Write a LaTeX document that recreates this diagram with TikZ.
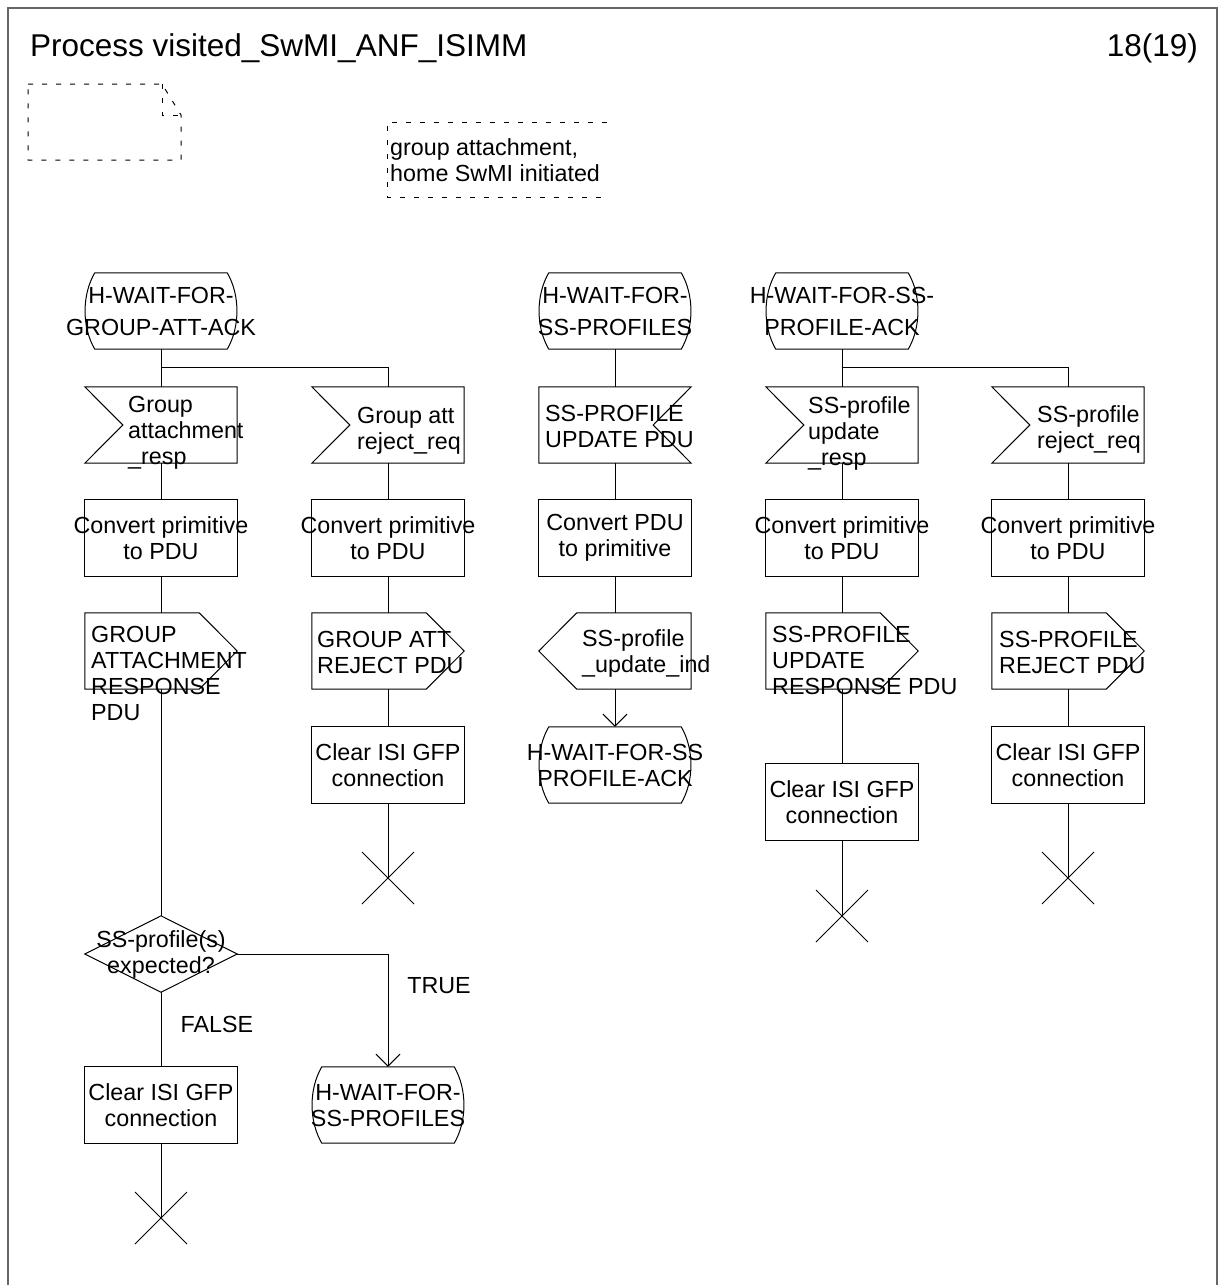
\documentclass[tikz,border=0pt]{standalone}
\usepackage{fontspec}
\setmainfont{Liberation Sans}
\usetikzlibrary{calc,arrows.meta}

\tikzset{
  ln/.style={line width=1pt, draw=black},
  blk/.style={minimum width=152pt, minimum height=76pt, inner sep=0pt},
  ctr/.style={inner sep=0pt, align=center, font=\fontsize{23.3}{26}\selectfont},
  toplead/.style={font=\fontsize{23.3}{32}\selectfont},
  txt/.style={inner sep=0pt, align=left, anchor=west, font=\fontsize{23.3}{26}\selectfont},
  lbl/.style={inner sep=0pt, font=\fontsize{23.3}{26}\selectfont},
  ttl/.style={inner sep=0pt, font=\fontsize{31.5}{38}\selectfont},
  frm/.style={line width=1.5pt, draw=black!60},
  dsh/.style={line width=1pt, dash pattern=on 5pt off 9pt},
  arr/.style={ln, -{Straight Barb[length=12pt,width=24pt]}},
}

\newcommand{\drawstate}[1]{\draw[ln] ($(#1.north west)+(10,0)$) -- ($(#1.north east)+(-10,0)$) .. controls ($(#1.north east)+(3,22)$) and ($(#1.south east)+(3,-22)$) .. ($(#1.south east)+(-10,0)$) -- ($(#1.south west)+(10,0)$) .. controls ($(#1.south west)+(-3,-22)$) and ($(#1.north west)+(-3,22)$) .. cycle;}
\newcommand{\drawin}[1]{\draw[ln] (#1.north west) -- (#1.north east) -- (#1.south east) -- (#1.south west) -- ($(#1.west)+(38,0)$) -- cycle;}
\newcommand{\drawinr}[1]{\draw[ln] (#1.north west) -- (#1.north east) -- ($(#1.east)+(-38,0)$) -- (#1.south east) -- (#1.south west) -- cycle;}
\newcommand{\drawout}[1]{\draw[ln] (#1.north west) -- ($(#1.north east)+(-38,0)$) -- (#1.east) -- ($(#1.south east)+(-38,0)$) -- (#1.south west) -- cycle;}
\newcommand{\drawoutl}[1]{\draw[ln] (#1.north east) -- (#1.south east) -- ($(#1.south west)+(38,0)$) -- (#1.west) -- ($(#1.north west)+(38,0)$) -- cycle;}
\newcommand{\drawbox}[1]{\draw[ln] (#1.north west) rectangle (#1.south east);}
\newcommand{\drawdec}[1]{\draw[ln] (#1.west) -- (#1.north) -- (#1.east) -- (#1.south) -- cycle;}
\newcommand{\drawstop}[1]{\draw[ln] ($(#1)+(-26,-26)$) -- ($(#1)+(26,26)$) ($(#1)+(-26,26)$) -- ($(#1)+(26,-26)$);}

\begin{document}
\begin{tikzpicture}[x=1pt,y=-1pt]
\useasboundingbox (0,0) rectangle (1221,1285);

% frame
\draw[frm] (8,1285) -- (8,8) -- (1217,8) -- (1217,1285);
\node[ttl, anchor=base west] (title) at (30,56) {Process visited\_SwMI\_ANF\_ISIMM};
\node[ttl, anchor=base east] (page) at (1198,56) {18(19)};

% top-left dashed symbol
\draw[dsh] (28,84) -- (162,84) -- (181,115) -- (181,160) -- (28,160) -- cycle;
\draw[dsh] (162,84) -- (162,115) -- (181,115);

% comment
\draw[dsh] (607,122) -- (387,122) -- (387,197) -- (607,197);
\node[txt] (cmt) at (390,160) {group attachment,\\home SwMI initiated};

% ---------- states (top row)
\node[blk] (s1) at (161,311) {};
\node[blk] (s3) at (615,311) {};
\node[blk] (s4) at (842,311) {};
\drawstate{s1}\drawstate{s3}\drawstate{s4}
\node[ctr, toplead] (ts1) at (s1.center) {H-WAIT-FOR-\\GROUP-ATT-ACK};
\node[ctr, toplead] (ts3) at (s3.center) {H-WAIT-FOR-\\SS-PROFILES};
\node[ctr, toplead] (ts4) at (s4.center) {H-WAIT-FOR-SS-\\PROFILE-ACK};

\coordinate (j1) at (161,367);
\coordinate (j4) at (842,367);

% ---------- inputs
\node[blk] (i1) at (161,425) {};
\node[blk] (i2) at (388,425) {};
\node[blk] (r3) at (615,425) {};
\node[blk] (i4) at (842,425) {};
\node[blk] (i5) at (1068,425) {};
\drawin{i1}\drawin{i2}\drawinr{r3}\drawin{i4}\drawin{i5}
\node[txt] (ti1) at (128,433) {Group\\attachment\\\_resp};
\node[txt] (ti2) at (357,431) {Group att\\reject\_req};
\node[txt] (tr3) at (545,426) {SS-PROFILE\\UPDATE PDU};
\node[txt] (ti4) at (808,433) {SS-profile\\update\\\_resp};
\node[txt] (ti5) at (1037,429) {SS-profile\\reject\_req};

% ---------- converts
\node[blk] (c1) at (161,538) {};
\node[blk] (c2) at (388,538) {};
\node[blk] (c3) at (615,538) {};
\node[blk] (c4) at (842,538) {};
\node[blk] (c5) at (1068,538) {};
\drawbox{c1}\drawbox{c2}\drawbox{c3}\drawbox{c4}\drawbox{c5}
\node[ctr] (tc1) at (c1.center) {Convert primitive\\to PDU};
\node[ctr] (tc2) at (c2.center) {Convert primitive\\to PDU};
\node[ctr] (tc3) at (c3.center) {Convert PDU\\to primitive};
\node[ctr] (tc4) at (c4.center) {Convert primitive\\to PDU};
\node[ctr] (tc5) at (c5.center) {Convert primitive\\to PDU};

% ---------- outputs
\node[blk] (o1) at (161,651) {};
\node[blk] (o2) at (388,651) {};
\node[blk] (o3) at (615,651) {};
\node[blk] (o4) at (842,651) {};
\node[blk] (o5) at (1068,651) {};
\drawout{o1}\drawout{o2}\drawoutl{o3}\drawout{o4}\drawout{o5}
\node[txt] (to1) at (91,673) {GROUP\\ATTACHMENT\\RESPONSE\\PDU};
\node[txt] (to2) at (317,652) {GROUP ATT\\REJECT PDU};
\node[txt] (to3) at (582,653) {SS-profile\\\_update\_ind};
\node[txt] (to4) at (772,660) {SS-PROFILE\\UPDATE\\RESPONSE PDU};
\node[txt] (to5) at (999,652) {SS-PROFILE\\REJECT PDU};

% ---------- clears and states
\node[blk] (k2) at (388,765) {};
\node[blk] (k4) at (842,802) {};
\node[blk] (k5) at (1068,765) {};
\drawbox{k2}\drawbox{k4}\drawbox{k5}
\node[ctr] (tk2) at (k2.center) {Clear ISI GFP\\connection};
\node[ctr] (tk4) at (k4.center) {Clear ISI GFP\\connection};
\node[ctr] (tk5) at (k5.center) {Clear ISI GFP\\connection};
\node[blk] (s3b) at (615,765) {};
\drawstate{s3b}
\node[ctr] (ts3b) at (s3b.center) {H-WAIT-FOR-SS\\PROFILE-ACK};

% ---------- decision
\node[blk] (d1) at (161,954) {};
\drawdec{d1}
\node[ctr] (td1) at (d1.center) {SS-profile(s)\\expected?};
\node[blk] (k1) at (161,1105) {};
\drawbox{k1}
\node[ctr] (tk1) at (k1.center) {Clear ISI GFP\\connection};
\node[blk] (s5) at (388,1105) {};
\drawstate{s5}
\node[ctr] (ts5) at (s5.center) {H-WAIT-FOR-\\SS-PROFILES};
\node[lbl] (ltrue) at (439,986) {TRUE};
\node[lbl] (lfalse) at (217,1024) {FALSE};

% stops
\coordinate (x1) at (161,1218);
\coordinate (x2) at (388,878);
\coordinate (x4) at (842,916);
\coordinate (x5) at (1068,878);
\drawstop{x1}\drawstop{x2}\drawstop{x4}\drawstop{x5}

% ---------- connectors
\draw[ln] (s1.south) -- (i1.north);
\draw[ln] (j1) -| (i2.north);
\draw[ln] (i1.south) -- (c1.north);
\draw[ln] (c1.south) -- (o1.north);
\draw[ln] (o1.south) -- (d1.north);
\draw[ln] (d1.south) -- (k1.north);
\draw[ln] (k1.south) -- (x1);
\draw[arr] (d1.east) -| (s5.north);

\draw[ln] (i2.south) -- (c2.north);
\draw[ln] (c2.south) -- (o2.north);
\draw[ln] (o2.south) -- (k2.north);
\draw[ln] (k2.south) -- (x2);

\draw[ln] (s3.south) -- (r3.north);
\draw[ln] (r3.south) -- (c3.north);
\draw[ln] (c3.south) -- (o3.north);
\draw[arr] (o3.south) -- (s3b.north);

\draw[ln] (s4.south) -- (i4.north);
\draw[ln] (j4) -| (i5.north);
\draw[ln] (i4.south) -- (c4.north);
\draw[ln] (c4.south) -- (o4.north);
\draw[ln] (o4.south) -- (k4.north);
\draw[ln] (k4.south) -- (x4);

\draw[ln] (i5.south) -- (c5.north);
\draw[ln] (c5.south) -- (o5.north);
\draw[ln] (o5.south) -- (k5.north);
\draw[ln] (k5.south) -- (x5);
\end{tikzpicture}
\end{document}
